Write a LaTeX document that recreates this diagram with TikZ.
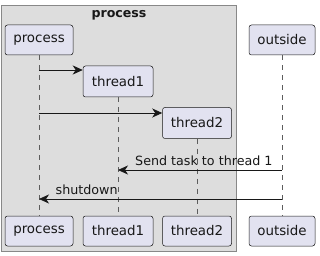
\documentclass[tikz,border=0pt]{standalone}
\usepackage{fontspec}
\setmainfont{DejaVu Sans}
\usetikzlibrary{arrows.meta}
\definecolor{partfill}{HTML}{E2E2F0}
\definecolor{ink}{HTML}{181818}
\definecolor{grpfill}{HTML}{DDDDDD}
\definecolor{grpline}{HTML}{888888}
\tikzset{
  part/.style={draw=ink, fill=partfill, rounded corners=2.5pt, line width=0.5pt,
    inner sep=0pt, font=\fontsize{13.4}{15}\selectfont, text=ink},
  life/.style={draw=ink!70, line width=0.5pt, dash pattern=on 5pt off 5pt},
  msg/.style={draw=ink, line width=0.8pt, -{Stealth[length=10pt,width=9pt,inset=3pt]}},
  lbl/.style={font=\fontsize{12.7}{14}\selectfont, text=ink, inner sep=0pt, anchor=base west}
}
\begin{document}
\begin{tikzpicture}[x=1pt,y=-1pt]
\useasboundingbox[fill=white] (0,0) rectangle (320,256);
% group box
\node[draw=grpline, fill=grpfill, line width=0.8pt, minimum width=235pt, minimum height=246pt, inner sep=0pt, anchor=north west] (grp) at (1,5) {};
\node[font=\bfseries\fontsize{12.6}{14}\selectfont, text=ink, inner sep=0pt, anchor=base] (title) at (119,18) {process};
% participants top
\node[part, minimum width=68pt, minimum height=30pt] (p) at (39,40) {process};
\node[part, minimum width=70pt, minimum height=31pt] (t1) at (118,81.5) {thread1};
\node[part, minimum width=69pt, minimum height=31pt] (t2) at (197,123) {thread2};
\node[part, minimum width=66pt, minimum height=30pt] (o) at (282,40) {outside};
% participants bottom
\node[part, minimum width=68pt, minimum height=30pt] (pb) at (39,231) {process};
\node[part, minimum width=70pt, minimum height=30pt] (t1b) at (118,231) {thread1};
\node[part, minimum width=69pt, minimum height=30pt] (t2b) at (197,231) {thread2};
\node[part, minimum width=66pt, minimum height=30pt] (ob) at (282,231) {outside};
% lifelines
\draw[life] (p.south) -- (pb.north);
\draw[life] (t1.south) -- (t1b.north);
\draw[life] (t2.south) -- (t2b.north);
\draw[life] (o.south) -- (ob.north);
% message anchor points
\coordinate (m1s) at (39,70);
\coordinate (m2s) at (39,113);
\coordinate (m3s) at (282,170);
\coordinate (m3e) at (118,170);
\coordinate (m4s) at (282,199);
\coordinate (m4e) at (39,199);
\draw[msg] (m1s) -- (t1.west |- m1s);
\draw[msg] (m2s) -- (t2.west |- m2s);
\draw[msg] (m3s) -- (m3e);
\draw[msg] (m4s) -- (m4e);
\node[lbl] (l3) at (135,165) {Send task to thread 1};
\node[lbl] (l4) at (55.5,194) {shutdown};
\end{tikzpicture}
\end{document}
